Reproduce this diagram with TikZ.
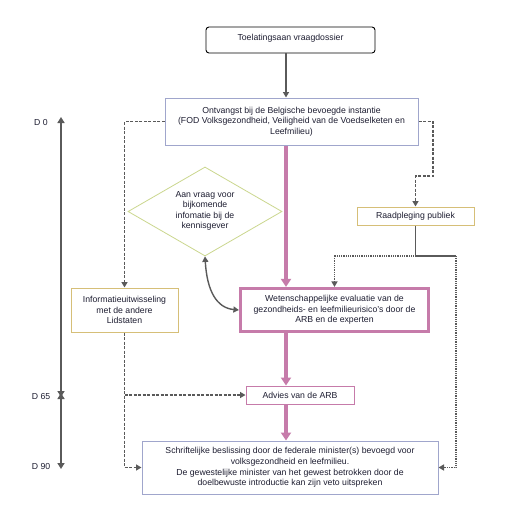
\documentclass[tikz,border=0pt]{standalone}
\usepackage{fontspec}
\setmainfont{Liberation Sans}
\usetikzlibrary{shapes.geometric,arrows.meta}
\definecolor{txt}{HTML}{1E1E32}
\definecolor{arr}{HTML}{5A5A5A}
\definecolor{lav}{HTML}{A0A6CC}
\definecolor{tan}{HTML}{D6BF78}
\definecolor{pink}{HTML}{C67BAA}
\definecolor{lime}{HTML}{CBD78E}
\tikzset{
  base/.style={font=\fontsize{8.7}{10.6}\selectfont, text=txt, align=center, inner sep=0pt},
  topbox/.style={base, draw=black, rounded corners=3pt, line width=0.9pt},
  lavbox/.style={base, draw=lav, line width=1pt},
  tanbox/.style={base, draw=tan, line width=1pt},
  pinkbox/.style={base, draw=pink, line width=1pt},
  evalbox/.style={base, draw=pink, line width=3.2pt},
  gtip/.style={-{Triangle[length=5.5pt,width=6pt]}},
  dashline/.style={draw=arr, line width=1.8pt, dash pattern=on 3pt off 1.5pt},
  dotline/.style={draw=arr, line width=1.8pt, dash pattern=on 1pt off 0.8pt},
  solidline/.style={draw=arr, line width=1.8pt},
  pinkline/.style={draw=pink, line width=3.4pt, -{Triangle[length=8pt,width=10pt]}},
  timeline/.style={draw=arr, line width=2.4pt, {Triangle[length=6pt,width=7pt]}-{Triangle[length=6pt,width=7pt]}},
  dlabel/.style={font=\fontsize{8.7}{10}\selectfont, text=txt, inner sep=0pt}
}
\begin{document}
\begin{tikzpicture}[x=1pt,y=-1pt]
\useasboundingbox (0,0) rectangle (513,531);
\fill[white] (0,0) rectangle (513,531);

\coordinate (mx) at (286,0);

\node[topbox, minimum width=169pt, minimum height=26pt, text depth=6pt] (top) at (290.5,40) {Toelatingsaan vraagdossier};
\node[lavbox, minimum width=253pt, minimum height=47pt] (ont) at (291.5,121.5)
  {Ontvangst bij de Belgische bevoegde instantie\\(FOD Volksgezondheid, Veiligheid van de Voedselketen en\\Leefmilieu)};
\node[tanbox, minimum width=117pt, minimum height=18pt] (raad) at (415.5,216) {Raadpleging publiek};
\node[draw=lime, line width=0.8pt, diamond, minimum width=154pt, minimum height=89pt, inner sep=0pt] (diam) at (205,211.5) {};
\node[base] (diamtext) at (205,211) {Aan vraag voor\\bijkomende\\infomatie bij de\\kennisgever};
\node[tanbox, minimum width=107pt, minimum height=44pt] (info) at (124.5,310)
  {Informatieuitwisseling\\met de andere\\Lidstaten};
\node[evalbox, minimum width=188pt, minimum height=43pt] (eval) at (334.5,310)
  {Wetenschappelijke evaluatie van de\\gezondheids- en leefmilieurisico’s door de\\ARB en de experten};
\node[pinkbox, minimum width=108pt, minimum height=18pt] (adv) at (300,395) {Advies van de ARB};
\node[lavbox, minimum width=296pt, minimum height=53pt] (fin) at (290,467.5)
  {Schriftelijke beslissing door de federale minister(s) bevoegd voor\\volksgezondheid en leefmilieu.\\De gewestelijke minister van het gewest betrokken door de\\doelbewuste introductie kan zijn veto uitspreken};

% timeline
\coordinate (t0) at (61,117);
\coordinate (t65a) at (61,397);
\coordinate (t65b) at (61,393);
\coordinate (t90) at (61,469);
\draw[timeline] (t0) -- (t65a);
\draw[timeline] (t65b) -- (t90);
\node[dlabel] (l0) at (41,122) {D 0};
\node[dlabel] (l65) at (41,396) {D 65};
\node[dlabel] (l90) at (41,466) {D 90};

% main flow
\draw[solidline, gtip] (top.south -| mx) -- (ont.north -| mx);
\draw[pinkline] (ont.south -| mx) -- (eval.north -| mx);
\draw[pinkline] (eval.south -| mx) -- (adv.north -| mx);
\draw[pinkline] (adv.south -| mx) -- (fin.north -| mx);

% dashed branches from Ontvangst
\draw[dashline, gtip] (ont.west) -| (info.north);
\coordinate (r1) at (433,176);
\draw[dashline, gtip] (ont.east) -| (r1) -| (raad.north);

% from Raadpleging
\coordinate (rj) at (415.5,256);
\coordinate (rr) at (456,256);
\draw[solidline] (raad.south) -- (rj) -- (rr);
\draw[dotline, gtip] (rj) -| (eval.north);
\draw[dotline, gtip] (rr) |- (fin.east);

% from Informatieuitwisseling
\coordinate (ij) at (124.5,395);
\draw[dashline, gtip] (info.south) |- (fin.west);
\draw[dashline, gtip] (ij) -- (adv.west);

% curved double arrow
\draw[solidline, line width=1.4pt, {Triangle[length=5.5pt,width=6pt]}-{Triangle[length=5.5pt,width=6pt]}]
  (diam.south) .. controls +(2,35) and +(-22,-2) .. (eval.west);
\end{tikzpicture}
\end{document}
